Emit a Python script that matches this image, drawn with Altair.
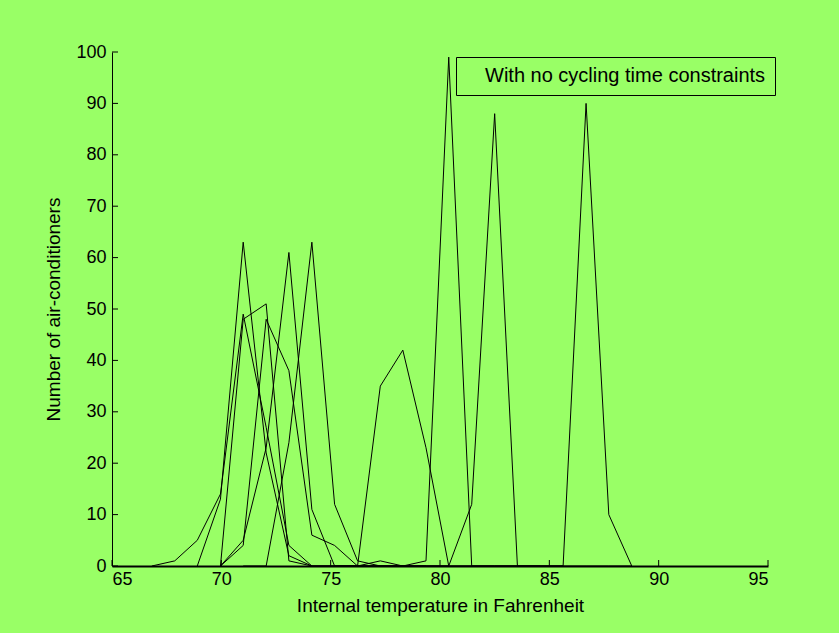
import altair as alt
import pandas as pd

# Bin centres (deg F)
temps = [66.82, 67.87, 68.90, 69.96, 71.00, 72.05, 73.09, 74.14, 75.18, 76.23,
         77.27, 78.30, 79.36, 80.40, 81.45, 82.50, 83.54, 84.60, 85.63, 86.68,
         87.72, 88.77]

# Each unit: index of its first bin in `temps`, then 10 histogram counts
ac_1 = (0, [0, 1, 5, 14, 49, 27, 4, 0, 0, 0])
ac_2 = (2, [0, 13, 63, 22, 2, 0, 0, 0, 0, 0])
ac_3 = (3, [0, 48, 51, 1, 0, 0, 0, 0, 0, 0])
ac_4 = (3, [0, 4, 48, 38, 6, 4, 0, 0, 0, 0])
ac_5 = (3, [0, 5, 23, 61, 11, 0, 0, 0, 0, 0])
ac_6 = (4, [0, 0, 24, 63, 12, 1, 0, 0, 0, 0])
ac_7 = (8, [0, 0, 35, 42, 23, 0, 0, 0, 0, 0])
ac_8 = (9, [0, 1, 0, 1, 99, 0, 0, 0, 0, 0])
ac_9 = (12, [0, 0, 12, 88, 0, 0, 0, 0, 0, 0])
ac_10 = (12, [0, 0, 0, 0, 0, 0, 0, 90, 10, 0])

units = [ac_1, ac_2, ac_3, ac_4, ac_5, ac_6, ac_7, ac_8, ac_9, ac_10]

x_ticks = [65, 70, 75, 80, 85, 90, 95]
y_ticks = [0, 10, 20, 30, 40, 50, 60, 70, 80, 90, 100]

legend_text = "With no cycling time constraints"

rows = []
for k, (start, counts) in enumerate(units):
    for j, c in enumerate(counts):
        rows.append({"unit": f"u{k+1}", "temp": temps[start + j], "count": c,
                     "legend": legend_text})
df = pd.DataFrame(rows)

FONT = "Liberation Sans"
W, H = 656, 514

x_enc = alt.X("temp:Q", scale=alt.Scale(domain=[65, 95], nice=False, zero=False),
              axis=alt.Axis(values=x_ticks, title="Internal temperature in Fahrenheit",
                            tickSize=0, labelPadding=4, titlePadding=8,
                            grid=False, format="d", domainWidth=2))
y_enc = alt.Y("count:Q", scale=alt.Scale(domain=[0, 100], nice=False),
              axis=alt.Axis(values=y_ticks, title="Number of air-conditioners",
                            tickSize=0, labelPadding=6, titlePadding=12,
                            grid=False, format="d", domainWidth=1))

lines = alt.Chart(df).mark_line(strokeWidth=1, clip=True).encode(
    x=x_enc,
    y=y_enc,
    detail="unit:N",
    color=alt.Color("legend:N", scale=alt.Scale(range=["#000000"]),
                    legend=alt.Legend(title=None, orient="none", legendX=344, legendY=5,
                                      strokeColor="#000000", padding=9, cornerRadius=0,
                                      symbolType="circle", symbolSize=1,
                                      symbolStrokeWidth=0, symbolOpacity=0,
                                      labelOffset=0, labelFont=FONT, labelFontSize=20,
                                      labelColor="#000000", labelLimit=400)),
)

xt = alt.Chart(pd.DataFrame({"temp": x_ticks})).mark_rule(color="#000000", strokeWidth=1).encode(
    x=x_enc, y=alt.value(H), y2=alt.value(H - 6))
yt = alt.Chart(pd.DataFrame({"count": y_ticks})).mark_rule(color="#000000", strokeWidth=1).encode(
    y=y_enc, x=alt.value(0), x2=alt.value(6))

chart = alt.layer(lines, xt, yt).properties(
    width=W, height=H,
    autosize=alt.AutoSizeParams(type="none"),
    padding={"left": 112, "top": 52, "right": 71, "bottom": 67},
    background="#99ff66",
).configure_view(stroke=None, fill="#99ff66").configure_axis(
    domainColor="#000000", labelColor="#000000", titleColor="#000000",
    labelFont=FONT, titleFont=FONT, labelFontSize=18, titleFontSize=19,
    titleFontWeight="normal",
)

chart.save("out.html", embed_options={"renderer": "svg", "actions": False})
